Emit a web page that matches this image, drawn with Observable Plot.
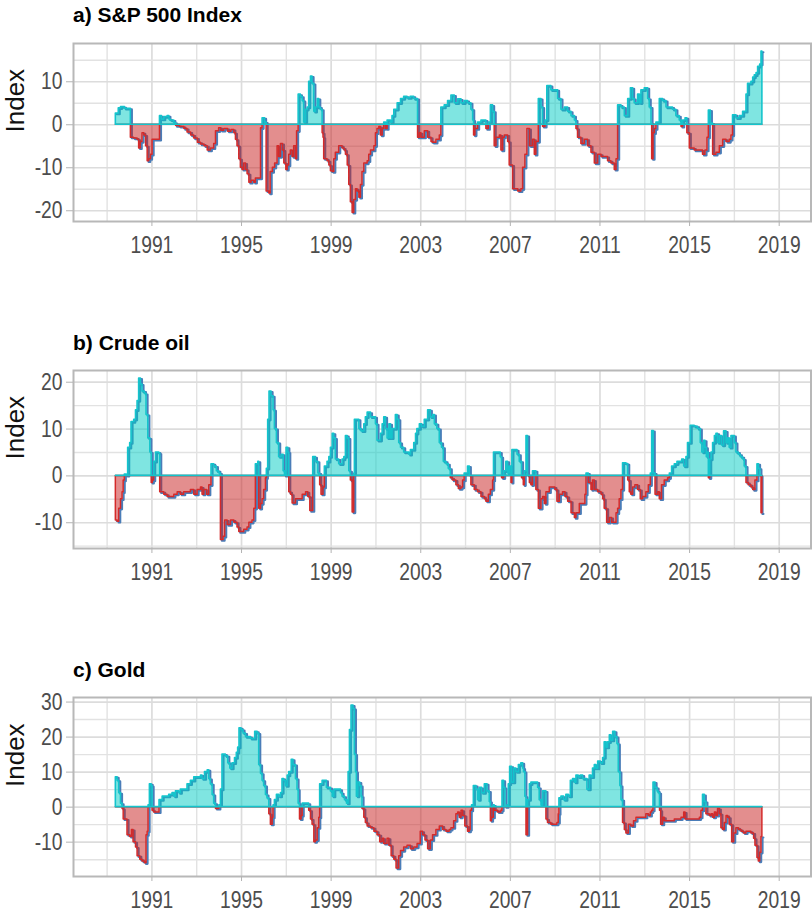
<!DOCTYPE html>
<html><head><meta charset="utf-8">
<script src="https://cdn.jsdelivr.net/npm/d3@7"></script>
<script src="https://cdn.jsdelivr.net/npm/@observablehq/plot@0.6"></script>
<style>
html,body{margin:0;padding:0;background:#fff}
body{width:812px;height:917px;position:relative;overflow:hidden}
.title{position:absolute;left:73px;font-family:"Liberation Sans",Arial,sans-serif;font-weight:bold;font-size:21px;line-height:21px;color:#000;white-space:nowrap}
.chart{position:absolute;left:0}
</style></head><body>
<script>
// ---------- data (decimal year, index value) ----------
const yearTicks = [1991, 1995, 1999, 2003, 2007, 2011, 2015, 2019];
const minorYears = [1989, 1993, 1997, 2001, 2005, 2009, 2013, 2017];

const spxYear = [1989.39,1989.52,1989.62,1989.80,1990.06,1990.20,1990.36,1990.43,1990.50,1990.58,1990.66,1990.74,1990.81,1990.88,1990.96,1991.03,1991.20,1991.36,1991.45,1991.55,1991.70,1991.78,1991.85,1992.00,1992.08,1992.25,1992.45,1992.59,1992.75,1992.89,1993.05,1993.19,1993.35,1993.49,1993.63,1993.78,1993.86,1994.00,1994.10,1994.23,1994.40,1994.55,1994.68,1994.75,1994.82,1994.90,1994.97,1995.05,1995.12,1995.20,1995.27,1995.35,1995.45,1995.57,1995.64,1995.87,1995.94,1996.05,1996.12,1996.24,1996.30,1996.40,1996.50,1996.61,1996.68,1996.76,1996.85,1996.91,1997.00,1997.06,1997.13,1997.20,1997.28,1997.35,1997.43,1997.48,1997.55,1997.65,1997.73,1997.80,1997.88,1997.95,1998.02,1998.10,1998.17,1998.25,1998.32,1998.40,1998.47,1998.54,1998.62,1998.66,1998.69,1998.84,1998.92,1998.99,1999.07,1999.14,1999.21,1999.36,1999.51,1999.60,1999.66,1999.74,1999.81,1999.88,1999.96,2000.03,2000.11,2000.18,2000.26,2000.33,2000.40,2000.48,2000.63,2000.70,2000.78,2000.93,2001.00,2001.07,2001.15,2001.22,2001.30,2001.37,2001.45,2001.52,2001.67,2001.74,2001.82,2001.97,2002.12,2002.26,2002.41,2002.55,2002.71,2002.88,2002.96,2003.03,2003.18,2003.33,2003.48,2003.55,2003.70,2003.85,2003.92,2004.07,2004.22,2004.37,2004.52,2004.67,2004.82,2004.96,2005.11,2005.26,2005.34,2005.38,2005.44,2005.56,2005.71,2005.86,2005.93,2006.04,2006.13,2006.23,2006.30,2006.38,2006.53,2006.60,2006.68,2006.75,2006.90,2006.97,2007.12,2007.35,2007.49,2007.57,2007.67,2007.76,2007.87,2008.01,2008.09,2008.16,2008.27,2008.39,2008.46,2008.57,2008.65,2008.83,2009.06,2009.13,2009.28,2009.43,2009.58,2009.73,2009.88,2009.95,2010.02,2010.17,2010.32,2010.47,2010.62,2010.77,2010.92,2011.07,2011.21,2011.36,2011.51,2011.66,2011.74,2011.81,2011.96,2012.11,2012.26,2012.38,2012.48,2012.55,2012.70,2012.78,2012.85,2013.00,2013.15,2013.22,2013.30,2013.33,2013.39,2013.45,2013.52,2013.67,2013.82,2013.97,2014.12,2014.26,2014.41,2014.56,2014.64,2014.71,2014.82,2014.90,2015.01,2015.23,2015.46,2015.60,2015.71,2015.80,2015.86,2015.95,2016.05,2016.20,2016.35,2016.50,2016.65,2016.79,2016.87,2016.94,2017.09,2017.24,2017.39,2017.54,2017.61,2017.76,2017.84,2017.91,2017.99,2018.06,2018.15,2018.21,2018.25];
const spxIndex = [2.6,3.8,4.1,3.7,-3.0,-3.2,-3.5,-5.5,-4.0,-2.0,-2.5,-5.0,-8.5,-8.0,-7.0,-3.5,-3.5,2.0,1.2,1.8,2.0,1.2,1.0,0.4,-0.3,-0.5,-1.0,-1.8,-2.5,-3.2,-4.2,-4.6,-5.0,-6.0,-5.5,-4.5,-1.5,-0.8,-1.4,-1.0,-1.6,-1.2,-2.0,-3.5,-5.0,-8.0,-10.0,-10.5,-9.0,-10.5,-11.5,-13.5,-13.0,-13.5,-12.5,-0.8,1.5,0.5,-15.5,-16.0,-11.0,-10.0,-9.0,-5.0,-7.5,-4.5,-6.0,-9.0,-10.5,-9.5,-7.0,-6.0,-7.5,-5.0,-8.0,-1.5,7.0,6.5,5.5,0.5,3.5,4.0,10.0,11.2,9.5,3.0,4.0,6.0,4.0,3.5,-2.0,-3.0,-8.0,-8.5,-9.5,-10.8,-11.0,-8.0,-6.5,-5.0,-5.5,-6.0,-7.0,-9.5,-14.0,-18.0,-20.5,-17.5,-15.0,-15.5,-17.0,-14.0,-11.0,-9.0,-8.5,-7.0,-6.0,-5.0,-2.0,-1.0,-0.5,-2.5,-1.0,0.5,-1.0,1.0,0.5,2.0,3.5,5.0,6.0,6.5,6.2,6.5,6.0,-3.0,-2.0,-3.0,-1.5,-3.0,-4.0,-4.2,-3.5,-2.5,4.0,4.5,5.5,6.8,5.0,5.9,5.0,5.5,5.0,3.5,1.0,-2.5,-1.0,0.5,1.0,1.0,-1.0,0.5,4.5,3.0,-5.0,-3.0,-2.5,-6.0,-3.0,-2.5,-4.0,-9.5,-15.0,-15.5,-15.0,-10.0,-7.0,-1.0,-5.0,-3.5,-7.0,-4.0,6.0,4.0,-0.5,1.0,9.0,8.0,8.0,6.0,3.5,4.0,3.0,2.0,1.0,-1.0,-3.0,-4.5,-3.5,-5.0,-6.5,-9.0,-7.0,-7.5,-7.5,-8.5,-9.0,-10.5,-8.0,4.5,4.0,2.0,6.0,8.5,6.0,5.0,7.0,5.0,8.0,8.5,6.0,4.0,0.3,-8.0,-2.0,-1.0,0.5,6.0,5.5,4.0,4.0,3.5,2.0,1.0,-0.5,1.0,1.5,-2.0,-5.5,-6.0,-6.0,-7.0,-6.0,-3.0,3.3,0.3,-7.0,-6.5,-5.0,-3.5,-4.0,-3.5,-2.5,2.2,1.5,2.0,3.0,7.0,9.5,10.0,11.0,11.5,12.0,13.5,14.0,17.0,17.0];

const oilYear = [1989.39,1989.47,1989.54,1989.62,1989.69,1989.74,1989.79,1989.88,1989.94,1990.03,1990.09,1990.21,1990.29,1990.36,1990.43,1990.51,1990.58,1990.69,1990.76,1990.84,1990.93,1990.99,1991.04,1991.10,1991.18,1991.33,1991.37,1991.55,1991.70,1991.85,1992.00,1992.15,1992.29,1992.44,1992.59,1992.74,1992.89,1993.04,1993.19,1993.26,1993.34,1993.46,1993.56,1993.66,1993.78,1993.90,1994.01,1994.08,1994.20,1994.27,1994.38,1994.53,1994.68,1994.82,1994.90,1995.00,1995.12,1995.27,1995.35,1995.49,1995.57,1995.64,1995.75,1995.79,1995.87,1995.94,1996.01,1996.09,1996.13,1996.19,1996.25,1996.34,1996.43,1996.49,1996.58,1996.68,1996.79,1996.88,1996.94,1997.01,1997.09,1997.13,1997.21,1997.28,1997.43,1997.58,1997.73,1997.88,1997.98,1998.07,1998.14,1998.20,1998.32,1998.43,1998.51,1998.57,1998.66,1998.72,1998.84,1998.92,1998.99,1999.07,1999.14,1999.21,1999.36,1999.51,1999.59,1999.66,1999.74,1999.81,1999.88,1999.96,2000.03,2000.06,2000.18,2000.26,2000.36,2000.48,2000.55,2000.63,2000.78,2000.93,2001.00,2001.07,2001.22,2001.30,2001.37,2001.45,2001.52,2001.60,2001.67,2001.74,2001.89,2001.97,2002.04,2002.12,2002.26,2002.41,2002.49,2002.56,2002.71,2002.79,2002.85,2002.96,2003.06,2003.18,2003.33,2003.45,2003.55,2003.63,2003.74,2003.85,2003.95,2004.03,2004.15,2004.25,2004.34,2004.44,2004.59,2004.70,2004.82,2004.89,2004.96,2005.11,2005.19,2005.26,2005.41,2005.56,2005.71,2005.86,2005.93,2006.04,2006.13,2006.23,2006.27,2006.45,2006.57,2006.63,2006.72,2006.82,2006.90,2006.97,2007.05,2007.09,2007.20,2007.32,2007.42,2007.52,2007.60,2007.64,2007.72,2007.79,2007.87,2007.94,2008.01,2008.09,2008.16,2008.27,2008.39,2008.46,2008.54,2008.61,2008.76,2008.91,2009.01,2009.10,2009.21,2009.35,2009.46,2009.58,2009.73,2009.88,2009.95,2010.10,2010.25,2010.35,2010.40,2010.50,2010.62,2010.69,2010.77,2010.92,2011.07,2011.14,2011.21,2011.32,2011.44,2011.54,2011.66,2011.74,2011.81,2011.88,2011.96,2012.03,2012.18,2012.26,2012.33,2012.40,2012.48,2012.58,2012.70,2012.82,2012.93,2013.07,2013.18,2013.27,2013.33,2013.40,2013.48,2013.60,2013.67,2013.77,2013.89,2014.04,2014.12,2014.22,2014.34,2014.46,2014.56,2014.67,2014.76,2014.86,2014.93,2015.05,2015.23,2015.38,2015.50,2015.57,2015.65,2015.71,2015.77,2015.83,2015.86,2015.92,2015.98,2016.05,2016.13,2016.20,2016.27,2016.35,2016.45,2016.54,2016.65,2016.72,2016.79,2016.87,2016.94,2017.02,2017.09,2017.20,2017.29,2017.39,2017.46,2017.54,2017.64,2017.76,2017.84,2017.94,2018.03,2018.10,2018.16,2018.21,2018.25];
const oilIndex = [-9.5,-9.8,-7,-5,-3.5,-1,0.3,0,6,7,11.5,12,14,16,20.8,19.5,18,17.5,13,8,5,-1.5,-1,3,5,4.8,-3.5,-4,-4.5,-4.5,-4,-3.5,-4,-3.5,-3.5,-3,-4,-3,-2.5,-4,-3,-4,-2,2.5,2,1,0.5,-13.7,-13,-9.5,-10.5,-9.5,-10,-11,-12,-12,-11.5,-11,-10,-9.5,-7,2.5,3,-7,-6,-5,-3,-0.5,1.5,12,18,17,14,10,7,4,4.5,1,0,6,5,-3.5,-4,-5.9,-5,-5,-4,-3.5,-4.5,-7.5,-7.5,4,3,0.5,-2,-4,-2.5,2,3,4,6,9,8,3.5,2.5,3.5,4,8.5,8,1,-1,-7.8,0.5,12,12,10,9.5,11,12.5,13.5,12.5,12.5,11,7.5,9,11,12.5,10,8,11,8,10,13,12,7,6,5,5,4.5,5.5,7,9,10,11,10.5,12,14,12.5,13,11,10,7,6,3,2.5,1.5,-0.5,-1,-2,-2.8,-2.5,-1,0.5,2,0,-2,-3,-3.5,-4.5,-5,-5.5,-4,-3,-1,5,5,4,-0.5,1,3,0.5,2,-1.5,5.5,5.5,4.5,3,-0.5,-2,1,8.5,0,-1.5,-2,1,1,-3,-7,-5,-4.5,-6,-3.5,-2.5,-2.5,-3,-5.5,-4,-3.5,-4.5,-5.5,-8,-9,-8,-6,-6,-4,0.5,-1.5,-3,-1,-3,-3.5,-4,-5,-7,-10,-9,-10,-10,-8,-7,-5,-3,2.7,2.5,-1,-3.5,-4,-2.5,-2,-3,-5,-4.5,-3.5,-2,0.5,9.6,0.5,-4,-3.5,-5,-2,-1,-0.5,0.5,2,2.5,3,3,3.5,2,4,7,10.7,10.5,10,7,5,7.5,6,4,5,-0.5,3.5,5,7,8.5,9,7,8.5,6.5,9.5,7,8,6,8.5,8.5,7,5,4.5,4,3.5,2,-1.5,-2,-2.5,-3,-1,2.5,1.5,0,-8,-8];

const goldYear = [1989.39,1989.47,1989.54,1989.62,1989.69,1989.74,1989.84,1989.91,1990.03,1990.11,1990.18,1990.29,1990.36,1990.48,1990.58,1990.69,1990.76,1990.81,1990.85,1990.91,1990.99,1991.03,1991.10,1991.25,1991.34,1991.48,1991.63,1991.77,1991.92,1992.00,1992.07,1992.22,1992.29,1992.44,1992.59,1992.74,1992.89,1993.04,1993.19,1993.26,1993.37,1993.49,1993.56,1993.63,1993.71,1993.78,1993.86,1993.96,1994.01,1994.08,1994.15,1994.30,1994.41,1994.50,1994.60,1994.71,1994.79,1994.85,1994.91,1995.00,1995.09,1995.20,1995.30,1995.42,1995.54,1995.61,1995.72,1995.79,1995.87,1995.94,1996.01,1996.09,1996.16,1996.24,1996.31,1996.39,1996.43,1996.49,1996.58,1996.68,1996.76,1996.83,1996.91,1996.98,1997.06,1997.13,1997.24,1997.32,1997.43,1997.50,1997.55,1997.61,1997.68,1997.73,1997.88,1998.02,1998.10,1998.17,1998.25,1998.32,1998.40,1998.47,1998.51,1998.62,1998.72,1998.81,1998.92,1998.99,1999.07,1999.14,1999.29,1999.44,1999.51,1999.62,1999.71,1999.78,1999.84,1999.91,2000.00,2000.06,2000.11,2000.15,2000.21,2000.30,2000.36,2000.40,2000.48,2000.55,2000.63,2000.78,2000.93,2001.07,2001.19,2001.30,2001.37,2001.52,2001.60,2001.70,2001.82,2001.92,2002.04,2002.12,2002.26,2002.41,2002.56,2002.71,2002.86,2003.00,2003.10,2003.21,2003.33,2003.45,2003.55,2003.70,2003.85,2004.00,2004.15,2004.29,2004.37,2004.49,2004.59,2004.67,2004.74,2004.82,2004.89,2004.99,2005.11,2005.19,2005.23,2005.29,2005.37,2005.49,2005.56,2005.63,2005.74,2005.86,2005.98,2006.08,2006.13,2006.18,2006.26,2006.30,2006.45,2006.60,2006.65,2006.72,2006.78,2006.87,2006.93,2006.99,2007.08,2007.17,2007.27,2007.38,2007.49,2007.57,2007.61,2007.67,2007.72,2007.79,2007.87,2007.94,2008.16,2008.24,2008.31,2008.39,2008.46,2008.54,2008.61,2008.68,2008.83,2008.98,2009.10,2009.16,2009.19,2009.28,2009.40,2009.50,2009.61,2009.70,2009.80,2009.88,2009.95,2010.05,2010.14,2010.25,2010.35,2010.44,2010.54,2010.62,2010.69,2010.77,2010.84,2010.92,2011.04,2011.14,2011.21,2011.29,2011.36,2011.44,2011.51,2011.59,2011.69,2011.78,2011.84,2011.91,2011.96,2012.03,2012.11,2012.18,2012.29,2012.40,2012.52,2012.63,2012.93,2013.07,2013.18,2013.27,2013.33,2013.39,2013.48,2013.57,2013.62,2013.68,2013.73,2013.82,2013.89,2014.19,2014.34,2014.64,2014.76,2014.82,2015.46,2015.53,2015.60,2015.68,2015.75,2015.90,2015.98,2016.05,2016.13,2016.20,2016.27,2016.35,2016.42,2016.50,2016.57,2016.65,2016.72,2016.79,2016.90,2016.99,2017.09,2017.20,2017.32,2017.43,2017.54,2017.64,2017.76,2017.88,2017.94,2018.03,2018.09,2018.15,2018.21,2018.25];
const goldIndex = [8.5,7.5,4,1,-0.5,-3.5,-3.5,-8,-8.5,-6.5,-10,-11.5,-14,-15,-15.5,-16,-8,-7,0.5,6.5,6,-1,-1.5,-1.5,2,3,3,3.5,4,3,4.5,4,5,5,6.5,7.5,8.5,8.5,9,8,10,10.5,8,6.5,3.5,1,-0.5,-0.5,0.5,5,15,14.5,12.5,11,12.5,14,15.5,17,22.5,22,21,20,20,19.5,19.5,21.5,21,12,9.5,7.5,6,3.5,2.5,-2,-5,-3,0.5,2,3.5,3,4,8,7.5,6,9,10,13.5,12,8,5,1,-3.5,-2.5,1,1,-1,-3.5,-5,-10,-9.5,-6,-3,6.5,7.5,7.5,5.5,5.5,4.5,3,5,5,4,3,2,1,10,22,29,28,15,10,3,7,6,3,-0.5,-3,-4.5,-5.5,-6,-7,-8,-10,-9,-10.5,-9,-11,-14,-15,-17.5,-14,-12.5,-11.5,-11,-12,-11.5,-10.5,-7,-8,-9.5,-12,-9.5,-8,-6.5,-5.5,-6.5,-7,-6.5,-6,-4,-2,-1.5,-3,-1,-2.5,-5.5,-7,-6.5,-1,0.5,6,5,2,5.5,4,6.5,4.5,1.5,-4,-3,0.5,-1,-1.5,-1,7.5,5.5,0,0.5,6.5,11.5,7,11,10,12,12.5,11,10,3,-8,2,6.5,7,7,5.5,2,0.5,4.5,4.5,-3.5,-4.5,-5,-5,-4.5,-2,2.5,3,2,3.5,3,7.5,8,7,9,8.5,9,8,8,5,9,8.5,11,12,11,13,12.5,14,18.5,17,18.5,20.5,19,21.5,20,18,10,6,2,-4.5,-6.5,-7.5,-5,-5.5,-4,-3,-3,-2,-2.5,-1.5,-1,7,5.5,4.5,4,-1,-5,-3,-4,-4,-3.5,-3,-1.5,-3.5,-3,-1,3.5,1.5,-2,-2.5,-2,-3,-1.5,-2.5,-0.5,-2,-6,-6.5,-4.5,-2.5,-3,-5,-10,-7.5,-6,-6.5,-7,-7.5,-7,-7,-7.5,-9,-11,-14.5,-15.5,-13,-8.5,-8.5];

// ---------- drawing ----------
const sans = '"Liberation Sans",Arial,sans-serif';

function panel(years, values, yDomain, yTicks, yMinor, innerH) {
  const data = years.map((x, i) => ({x, v: values[i]}));
  const mt = 5, mb = 40;
  const svg = Plot.plot({
    width: 812, height: mt + innerH + mb,
    marginLeft: 73, marginRight: 1.5, marginTop: mt, marginBottom: mb,
    style: {background: "transparent", overflow: "visible", fontFamily: sans},
    x: {domain: [1987.5, 2020.42], label: null},
    y: {domain: yDomain, label: null},
    marks: [
      Plot.gridX(minorYears, {stroke: "#e2e2e2", strokeOpacity: 1, strokeWidth: 1.4}),
      Plot.gridX(yearTicks, {stroke: "#dcdcdc", strokeOpacity: 1, strokeWidth: 1.7}),
      Plot.gridY(yMinor, {stroke: "#e2e2e2", strokeOpacity: 1, strokeWidth: 1.4}),
      Plot.gridY(yTicks, {stroke: "#dcdcdc", strokeOpacity: 1, strokeWidth: 1.7}),
      Plot.lineY(data, {x: "x", y: "v", curve: "step-after", stroke: "#4a7db8", strokeWidth: 2.2, dx: 1, dy: 0.6}),
      Plot.areaY(data, {x: "x", y: d => Math.min(d.v, 0), curve: "step-after",
        fill: "#c81e1e", fillOpacity: 0.5, stroke: "#d42a2a", strokeWidth: 1.5}),
      Plot.areaY(data, {x: "x", y: d => Math.max(d.v, 0), curve: "step-after",
        fill: "#00cbc4", fillOpacity: 0.5, stroke: "#14c4cc", strokeWidth: 1.6}),
      Plot.frame({stroke: "#b8b8b8", strokeWidth: 2}),
      Plot.axisX(yearTicks, {tickSize: 5, tickPadding: 10, stroke: "#b3b3b3", fill: "#4d4d4d",
        fontSize: 23.5, fontFamily: sans, tickFormat: d => String(d), label: null}),
      Plot.axisY(yTicks, {tickSize: 7, tickPadding: 4, stroke: "#b3b3b3", fill: "#4d4d4d",
        fontSize: 23.5, fontFamily: sans, tickFormat: d => String(d), label: null}),
      Plot.text(["Index"], {frameAnchor: "left", dx: -58, rotate: -90, fontSize: 26,
        fontFamily: sans, fill: "#111", text: d => d})
    ]
  });
  // condense tick labels horizontally (the reference uses a narrow face)
  svg.querySelectorAll('g[aria-label$="tick label"] text').forEach(t => {
    const tr = t.getAttribute("transform") || "";
    t.setAttribute("transform", tr + " scale(0.82,1)");
  });
  return svg;
}

const specs = [
  {title: "a) S&P 500 Index", titleTop: 3.5, top: 37.7, h: 178,
   years: spxYear, values: spxIndex, dom: [-22.5, 18.9], ticks: [-20, -10, 0, 10], minor: [-15, -5, 5, 15]},
  {title: "b) Crude oil", titleTop: 332, top: 365, h: 178,
   years: oilYear, values: oilIndex, dom: [-15.5, 22.5], ticks: [-10, 0, 10, 20], minor: [-15, -5, 5, 15]},
  {title: "c) Gold", titleTop: 658.5, top: 692.3, h: 179,
   years: goldYear, values: goldIndex, dom: [-19.8, 31.3], ticks: [-10, 0, 10, 20, 30], minor: [-15, -5, 5, 15, 25]}
];

for (const s of specs) {
  const t = document.createElement("div");
  t.className = "title";
  t.style.top = s.titleTop + "px";
  t.textContent = s.title;
  document.body.appendChild(t);
  const wrap = document.createElement("div");
  wrap.className = "chart";
  wrap.style.top = s.top + "px";
  wrap.appendChild(panel(s.years, s.values, s.dom, s.ticks, s.minor, s.h));
  document.body.appendChild(wrap);
}
</script>
</body></html>
